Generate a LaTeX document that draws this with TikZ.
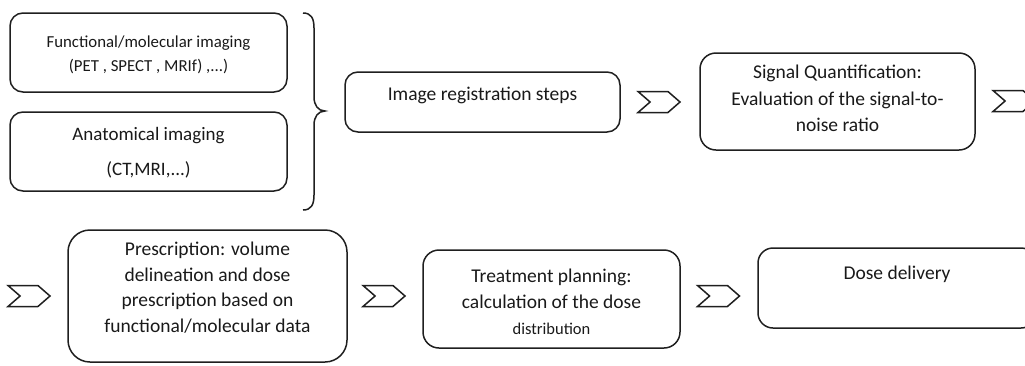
\documentclass[tikz,border=0pt]{standalone}
\usepackage{fontspec}
\setmainfont{Carlito}
\usetikzlibrary{shapes.symbols}
\definecolor{linec}{gray}{0.12}
\definecolor{textc}{gray}{0.1}
\begin{document}
\begin{tikzpicture}[x=1pt,y=-1pt,
  box/.style={draw=linec,line width=1.5pt,rounded corners=13pt,inner sep=0pt,outer sep=0pt},
  txt/.style={text=textc,align=center,inner sep=0pt,font=\fontsize{19.5}{26}\selectfont},
  chev/.style={signal,signal from=west,signal to=east,signal pointer angle=82,
    draw=linec,line width=1.5pt,minimum width=42pt,minimum height=21pt,inner sep=0pt,outer sep=0pt}]
\clip (0,0) rectangle (1025,365);
% boxes
\node[box,minimum width=277pt,minimum height=79pt] (fun) at (148.5,52.5) {};
\node[box,minimum width=277pt,minimum height=79pt] (ana) at (148.5,151.5) {};
\node[box,minimum width=275pt,minimum height=60pt] (reg) at (482.5,102) {};
\node[box,minimum width=275pt,minimum height=97pt,rounded corners=16pt] (sig) at (837.5,101.5) {};
\node[box,minimum width=279pt,minimum height=132pt,rounded corners=22pt] (pres) at (207.5,296) {};
\node[box,minimum width=257pt,minimum height=98pt,rounded corners=16pt] (treat) at (551.5,299) {};
\node[box,minimum width=278pt,minimum height=80pt,rounded corners=15pt] (dose) at (897,288) {};
% texts
\node[txt,font=\fontsize{16.8}{24}\selectfont] (funt) at (148.5,55) {Functional/molecular imaging\\(PET , SPECT , MRIf) ,...)};
\node[txt,font=\fontsize{19}{35}\selectfont] (anat) at (148.5,153) {Anatomical imaging\\(CT,MRI,...)};
\node[txt] (regt) at (482.5,95) {Image registration steps};
\node[txt,font=\fontsize{19.5}{26.5}\selectfont] (sigt) at (837.5,98.5) {Signal Quantification:\\Evaluation of the signal-to-\\noise ratio};
\node[txt,font=\fontsize{19.5}{25.5}\selectfont] (prest) at (207.5,287.5) {Prescription: volume\\delineation and dose\\prescription based on\\functional/molecular data};
\node[txt] (treatt) at (551.5,302) {Treatment planning:\\calculation of the dose\\{\fontsize{16.5}{25}\selectfont distribution}};
\node[txt] (doset) at (897,274) {Dose delivery};
% chevrons
\node[chev] (c1) at (659,102) {};
\node[chev] (c2) at (1014,101) {};
\node[chev] (c3) at (29,296) {};
\node[chev] (c4) at (384,296) {};
\node[chev] (c5) at (718.5,296) {};
% brace
\draw[linec,line width=1.5pt] (303,13) .. controls (311,13) and (314,18) .. (314,28) -- (314,97)
  .. controls (314,105) and (318,111) .. (325,111)
  .. controls (318,111) and (314,117) .. (314,125) -- (314,195)
  .. controls (314,205) and (311,210) .. (303,210);
\end{tikzpicture}
\end{document}
